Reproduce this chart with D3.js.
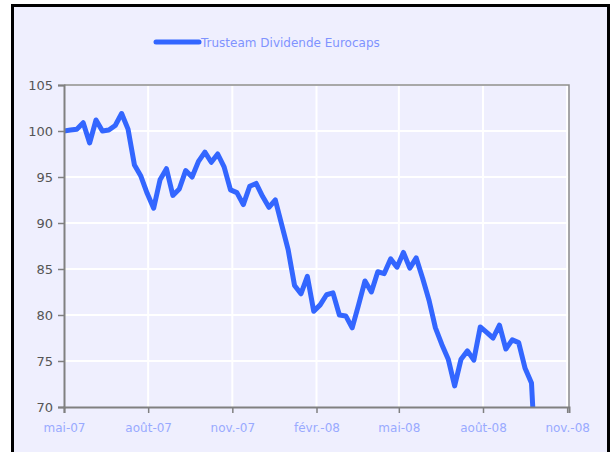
<!DOCTYPE html>
<html>
<head>
<meta charset="utf-8">
<script src="https://d3js.org/d3.v7.min.js"></script>
<style>
  body { margin: 0; background: #ffffff; }
  svg { display: block; }
</style>
</head>
<body>
<div id="chart"></div>
<script>
// weekly values of the fund, starting 1 May 2007
const seriesName = "Trusteam Dividende Eurocaps";
const startDate = "2007-05-01";
const values = [
  100.0, 100.1, 100.2, 100.9, 98.7, 101.2, 100.0, 100.1, 100.6, 101.9,
  100.2, 96.3, 95.1, 93.2, 91.6, 94.7, 95.9, 93.0, 93.7, 95.7,
  95.0, 96.7, 97.7, 96.6, 97.5, 96.1, 93.6, 93.3, 92.0, 94.0,
  94.3, 92.9, 91.7, 92.5, 89.8, 87.1, 83.2, 82.3, 84.2, 80.4,
  81.1, 82.2, 82.4, 80.0, 79.9, 78.6, 81.1, 83.7, 82.5, 84.7,
  84.5, 86.1, 85.2, 86.8, 85.1, 86.2, 84.0, 81.6, 78.6, 76.8,
  75.2, 72.3, 75.2, 76.1, 75.1, 78.7, 78.1, 77.5, 78.9, 76.3,
  77.3, 77.0, 74.2, 72.6, 59.5
];
const tickDates = ["2007-05-01", "2007-08-01", "2007-11-01", "2008-02-01", "2008-05-01", "2008-08-01", "2008-11-01"];
const tickLabels = ["mai-07", "août-07", "nov.-07", "févr.-08", "mai-08", "août-08", "nov.-08"];
const yTicks = [70, 75, 80, 85, 90, 95, 100, 105];

const width = 613, height = 452;
const parse = d3.utcParse("%Y-%m-%d");
const t0 = parse(startDate);
const data = values.map((v, i) => ({ date: d3.utcDay.offset(t0, 7 * i), value: v }));

const svg = d3.select("#chart").append("svg")
  .attr("width", width)
  .attr("height", height);

// chart area background + frame
svg.append("rect")
  .attr("x", 12.5).attr("y", 5.5)
  .attr("width", 596).attr("height", 470)
  .attr("fill", "#efeffe")
  .attr("stroke", "#000")
  .attr("stroke-width", 3);

const plot = { left: 64, right: 569, top: 85, bottom: 407 };

const x = d3.scaleUtc()
  .domain([parse("2007-05-01"), parse("2008-11-03")])
  .range([plot.left, plot.right]);

const y = d3.scaleLinear()
  .domain([70, 105])
  .range([plot.bottom, plot.top]);

// grid
const grid = svg.append("g");
grid.selectAll("line.h")
  .data(yTicks.slice(1))
  .enter().append("line")
  .attr("x1", plot.left).attr("x2", plot.right)
  .attr("y1", d => y(d)).attr("y2", d => y(d))
  .attr("stroke", "#ffffff").attr("stroke-width", 2);
grid.selectAll("line.v")
  .data(tickDates.slice(1))
  .enter().append("line")
  .attr("x1", d => x(parse(d))).attr("x2", d => x(parse(d)))
  .attr("y1", plot.top).attr("y2", plot.bottom)
  .attr("stroke", "#ffffff").attr("stroke-width", 2);

// plot frame (top and right)
svg.append("path")
  .attr("d", `M${plot.left},${plot.top}H${plot.right}V${plot.bottom}`)
  .attr("fill", "none")
  .attr("stroke", "#8c8c8c")
  .attr("stroke-width", 1.5);

// clip for the line
svg.append("clipPath").attr("id", "clip")
  .append("rect")
  .attr("x", plot.left).attr("y", plot.top - 10)
  .attr("width", plot.right - plot.left)
  .attr("height", plot.bottom - plot.top + 10);

const line = d3.line()
  .x(d => x(d.date))
  .y(d => y(d.value));

svg.append("path")
  .datum(data)
  .attr("clip-path", "url(#clip)")
  .attr("fill", "none")
  .attr("stroke", "#3366ff")
  .attr("stroke-width", 5)
  .attr("stroke-linejoin", "round")
  .attr("stroke-linecap", "round")
  .attr("d", line);

// axes
const yAxis = d3.axisLeft(y).tickValues(yTicks).tickSize(6).tickPadding(5);
const gy = svg.append("g")
  .attr("transform", `translate(${plot.left},0)`)
  .call(yAxis);
gy.select(".domain").attr("stroke", "#808080").attr("stroke-width", 2);
gy.selectAll(".tick line").attr("stroke", "#808080").attr("stroke-width", 1.5);
gy.selectAll(".tick text")
  .attr("fill", "#555555")
  .style("font-family", "DejaVu Sans")
  .style("font-size", "13px");

const xAxis = d3.axisBottom(x)
  .tickValues(tickDates.map(parse))
  .tickFormat((d, i) => tickLabels[i])
  .tickSize(6).tickPadding(10);
const gx = svg.append("g")
  .attr("transform", `translate(0,${plot.bottom})`)
  .call(xAxis);
gx.select(".domain").attr("stroke", "#808080").attr("stroke-width", 2);
gx.selectAll(".tick line").attr("stroke", "#808080").attr("stroke-width", 1.5);
gx.selectAll(".tick text")
  .attr("fill", "#99aaff")
  .style("font-family", "DejaVu Sans")
  .style("font-size", "12px");

// legend
const legend = svg.append("g");
legend.append("line")
  .attr("x1", 156).attr("x2", 199)
  .attr("y1", 42).attr("y2", 42)
  .attr("stroke", "#3366ff")
  .attr("stroke-width", 5)
  .attr("stroke-linecap", "round");
legend.append("text")
  .attr("x", 201).attr("y", 47)
  .attr("fill", "#7f93ff")
  .style("font-family", "DejaVu Sans")
  .style("font-size", "12px")
  .text(seriesName);
</script>
</body>
</html>
